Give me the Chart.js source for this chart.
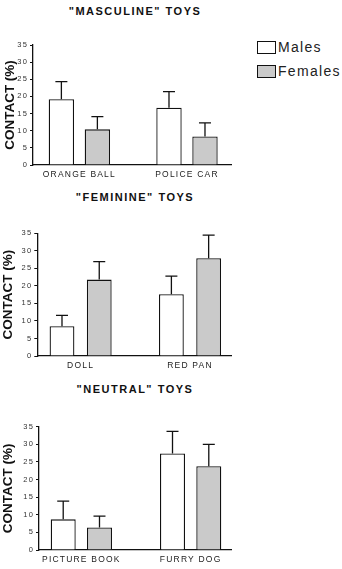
<!DOCTYPE html>
<html>
<head>
<meta charset="utf-8">
<script src="https://cdn.jsdelivr.net/npm/chart.js"></script>
<style>
  body { margin: 0; background: #fff; width: 342px; height: 569px; position: relative; overflow: hidden;
         font-family: "Liberation Sans", Arial, sans-serif; }
  .panel { position: absolute; left: 0; width: 240px; }
  .ttl { position: absolute; left: 0; width: 270px; text-align: center; font-weight: bold; font-size: 11px;
         letter-spacing: 1.5px; color: #111; line-height: 12px; }
  .legend { position: absolute; left: 257px; font-size: 14px; letter-spacing: 1.3px; color: #222; line-height: 14px; }
  .legend .box { position: absolute; left: 0; width: 17px; height: 11px; border: 1px solid #111; }
  .legend span.lbl { position: absolute; left: 21px; top: -1px; white-space: nowrap; }
</style>
</head>
<body>
<div class="ttl" style="top:5px">"MASCULINE" TOYS</div>
<div class="ttl" style="top:191px">"FEMININE" TOYS</div>
<div class="ttl" style="top:383px">"NEUTRAL" TOYS</div>

<div class="legend" style="top:41px"><div class="box" style="background:#fff"></div><span class="lbl">Males</span></div>
<div class="legend" style="top:65px"><div class="box" style="background:#cacaca"></div><span class="lbl">Females</span></div>

<div class="panel" style="top:35px;height:155px"><canvas id="chartMasc"></canvas></div>
<div class="panel" style="top:220px;height:160px"><canvas id="chartFem"></canvas></div>
<div class="panel" style="top:415px;height:154px"><canvas id="chartNeu"></canvas></div>

<script>
// contact percentages, mean and upper error (SEM)
const masculineToys = ['ORANGE BALL', 'POLICE CAR'];
const masculineMales = [19.2, 16.7];
const masculineMalesErr = [5.1, 4.7];
const masculineFemales = [10.4, 8.3];
const masculineFemalesErr = [3.7, 4.0];

const feminineToys = ['DOLL', 'RED PAN'];
const feminineMales = [8.5, 17.6];
const feminineMalesErr = [3.1, 5.2];
const feminineFemales = [21.8, 27.9];
const feminineFemalesErr = [5.1, 6.6];

const neutralToys = ['PICTURE BOOK', 'FURRY DOG'];
const neutralMales = [8.7, 27.4];
const neutralMalesErr = [5.2, 6.3];
const neutralFemales = [6.4, 23.8];
const neutralFemalesErr = [3.2, 6.2];

const yTicks = [0, 5, 10, 15, 20, 25, 30, 35];

// whisker above each bar
const errorBars = {
    id: 'errorBars',
    afterDatasetsDraw(chart) {
        const ctx = chart.ctx;
        const yScale = chart.scales.y;
        ctx.save();
        ctx.strokeStyle = '#111';
        ctx.lineWidth = 1.3;
        chart.data.datasets.forEach((ds, i) => {
            const meta = chart.getDatasetMeta(i);
            meta.data.forEach((bar, j) => {
                const top = yScale.getPixelForValue(ds.data[j].y + ds.errors[j]);
                ctx.beginPath();
                ctx.moveTo(bar.x, bar.y);
                ctx.lineTo(bar.x, top);
                ctx.moveTo(bar.x - 6, top);
                ctx.lineTo(bar.x + 6, top);
                ctx.stroke();
            });
        });
        ctx.restore();
    }
};

// spaced-out tick text, but keep the axis title tight
const spacing = {
    id: 'spacing',
    beforeDraw(chart) {
        chart.ctx.letterSpacing = '1.2px';
        const y = chart.scales.y;
        if (!y._tightTitle) {
            const drawTitle = y.drawTitle.bind(y);
            y.drawTitle = function () {
                const prev = this.ctx.letterSpacing;
                this.ctx.letterSpacing = '0px';
                drawTitle();
                this.ctx.letterSpacing = prev;
            };
            y._tightTitle = true;
        }
    }
};

function buildChart(id, toys, males, malesErr, females, femalesErr, layout) {
    const points = arr => arr.map((v, i) => ({ x: i + 1, y: v }));
    return new Chart(document.getElementById(id), {
        type: 'bar',
        data: {
            datasets: [
                { label: 'Males', data: points(males), errors: malesErr,
                  backgroundColor: '#ffffff', borderColor: '#111', borderWidth: 1.3,
                  categoryPercentage: layout.catPct, barPercentage: layout.barPct },
                { label: 'Females', data: points(females), errors: femalesErr,
                  backgroundColor: '#cacaca', borderColor: '#111', borderWidth: 1.3,
                  categoryPercentage: layout.catPct, barPercentage: layout.barPct }
            ]
        },
        options: {
            responsive: true,
            maintainAspectRatio: false,
            animation: false,
            layout: { padding: { top: layout.top, right: layout.right, left: 0, bottom: 0 } },
            plugins: { legend: { display: false }, tooltip: { enabled: false } },
            scales: {
                x: {
                    type: 'linear',
                    offset: false,
                    min: layout.xMin,
                    max: layout.xMax,
                    afterBuildTicks: s => { s.ticks = toys.map((t, i) => ({ value: i + 1 })); },
                    afterFit: s => { s.height = layout.xHeight; },
                    grid: { display: false, drawTicks: false, offset: false },
                    border: { display: true, color: '#111', width: 1.3 },
                    ticks: {
                        callback: v => toys[v - 1],
                        padding: 5,
                        maxRotation: 0,
                        autoSkip: false,
                        color: '#222',
                        font: { family: 'Liberation Sans', size: 8.5 }
                    }
                },
                y: {
                    min: 0,
                    max: 35,
                    afterBuildTicks: s => { s.ticks = yTicks.map(v => ({ value: v })); },
                    afterFit: s => { s.width = layout.axisX; },
                    grid: { drawOnChartArea: false, drawTicks: true, tickLength: 3, color: '#111' },
                    border: { display: true, color: '#111', width: 1.3 },
                    ticks: { padding: 2, color: '#333', font: { family: 'Liberation Sans', size: 7.5 } },
                    title: {
                        display: true,
                        text: 'CONTACT (%)',
                        color: '#111',
                        padding: { top: layout.titlePad, bottom: 0 },
                        font: { family: 'Liberation Sans', size: 13.5, weight: 'bold' }
                    }
                }
            }
        },
        plugins: [spacing, errorBars]
    });
}

buildChart('chartMasc', masculineToys, masculineMales, masculineMalesErr, masculineFemales, masculineFemalesErr,
    { top: 10, right: 9, axisX: 33, xHeight: 25, xMin: 0.569, xMax: 2.409, catPct: 0.669, barPct: 0.705, titlePad: 2 });
buildChart('chartFem', feminineToys, feminineMales, feminineMalesErr, feminineFemales, feminineFemalesErr,
    { top: 13.3, right: 8.3, axisX: 37.3, xHeight: 24, xMin: 0.604, xMax: 2.381, catPct: 0.681, barPct: 0.666, titlePad: 0 });
buildChart('chartNeu', neutralToys, neutralMales, neutralMalesErr, neutralFemales, neutralFemalesErr,
    { top: 11.7, right: 8.3, axisX: 39, xHeight: 19, xMin: 0.6125, xMax: 2.3756, catPct: 0.664, barPct: 0.689, titlePad: 0 });
</script>
</body>
</html>
